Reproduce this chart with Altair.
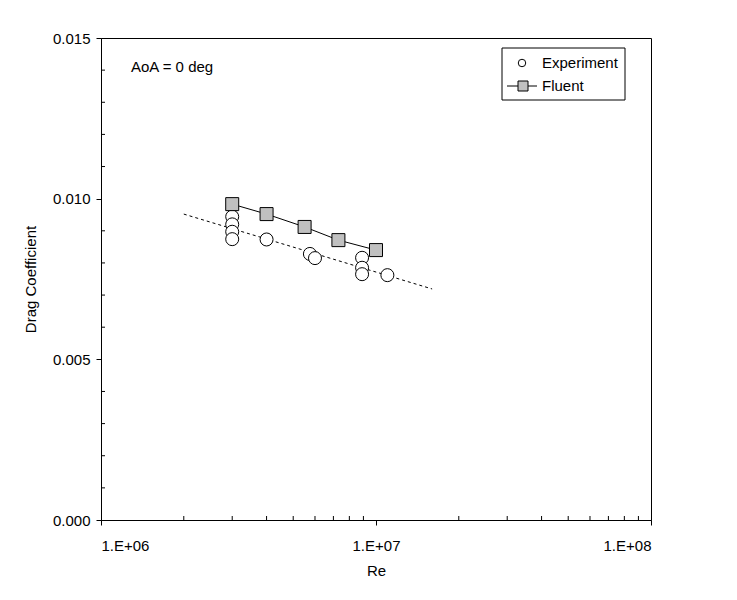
import altair as alt
import pandas as pd

# ---- data ----
fluent_re = [3.0e6, 4.0e6, 5.5e6, 7.3e6, 1.0e7]
fluent_cd = [0.00983, 0.00952, 0.00912, 0.00871, 0.00840]

exp_re = [3.0e6, 3.0e6, 3.0e6, 3.0e6, 4.0e6, 5.75e6, 6.0e6, 8.9e6, 8.9e6, 8.9e6, 1.1e7]
exp_cd = [0.00944, 0.00920, 0.00897, 0.00874, 0.00873, 0.00828, 0.00815,
          0.00816, 0.00785, 0.00765, 0.00762]

fit_re = [2.0e6, 1.6e7]
fit_cd = [0.00952, 0.00719]

x_major = [1e6, 1e7, 1e8]
y_major = [0.0, 0.005, 0.010, 0.015]
x_minor = [2e6, 3e6, 4e6, 5e6, 6e6, 7e6, 8e6, 9e6,
           2e7, 3e7, 4e7, 5e7, 6e7, 7e7, 8e7, 9e7]
y_minor = [0.001, 0.002, 0.003, 0.004, 0.006, 0.007, 0.008, 0.009,
           0.011, 0.012, 0.013, 0.014]

legend_labels = ["Experiment", "Fluent"]
annotation = ["AoA = 0 deg"]

FONT = "Liberation Sans"
W, H = 550, 482

xscale = alt.Scale(type="log", domain=[1e6, 1e8], nice=False)
yscale = alt.Scale(domain=[0, 0.015], nice=False, zero=False)

xenc = alt.X("re:Q", scale=xscale,
             axis=alt.Axis(values=x_major, title="Re",
                           labelExpr="'1.E+0' + round(log(datum.value)/LN10)",
                           tickSize=5, labelPadding=13, titlePadding=10))
yenc = alt.Y("cd:Q", scale=yscale,
             axis=alt.Axis(values=y_major, format=".3f", title="Drag Coefficient",
                           tickSize=5, labelPadding=6, titlePadding=14))

fluent_df = pd.DataFrame({"re": fluent_re, "cd": fluent_cd})
exp_df = pd.DataFrame({"re": exp_re, "cd": exp_cd})
fit_df = pd.DataFrame({"re": fit_re, "cd": fit_cd})

base_axes = alt.Chart(fit_df).mark_line(
    stroke="black", strokeWidth=1, strokeDash=[3, 3]
).encode(x=xenc, y=yenc)

fluent_line = alt.Chart(fluent_df).mark_line(stroke="black", strokeWidth=1).encode(
    x=alt.X("re:Q", scale=xscale), y=alt.Y("cd:Q", scale=yscale))

exp_pts = alt.Chart(exp_df).mark_point(
    shape="circle", size=169, filled=True, fill="white", stroke="black",
    strokeWidth=1, opacity=1
).encode(x=alt.X("re:Q", scale=xscale), y=alt.Y("cd:Q", scale=yscale))

fluent_pts = alt.Chart(fluent_df).mark_point(
    shape="square", size=169, filled=True, fill="#c0c0c0", stroke="black",
    strokeWidth=1, opacity=1
).encode(x=alt.X("re:Q", scale=xscale), y=alt.Y("cd:Q", scale=yscale))

# minor ticks (inward)
xmin_df = pd.DataFrame({"re": x_minor})
ymin_df = pd.DataFrame({"cd": y_minor})
x_minor_ticks = alt.Chart(xmin_df).mark_rule(stroke="black", strokeWidth=1).encode(
    x=alt.X("re:Q", scale=xscale), y=alt.value(H), y2=alt.value(H - 4))
y_minor_ticks = alt.Chart(ymin_df).mark_rule(stroke="black", strokeWidth=1).encode(
    y=alt.Y("cd:Q", scale=yscale), x=alt.value(0), x2=alt.value(4))

# annotation
ann = alt.Chart(pd.DataFrame({"t": annotation})).mark_text(
    font=FONT, fontSize=15, align="left", baseline="middle", color="black"
).encode(text="t:N", x=alt.value(30), y=alt.value(29))

# manual legend
one = pd.DataFrame({"a": [0]})
leg_box = alt.Chart(one).mark_rect(
    fill="white", stroke="black", strokeWidth=1
).encode(x=alt.value(401), x2=alt.value(524), y=alt.value(10), y2=alt.value(62))
leg_circle = alt.Chart(one).mark_point(
    shape="circle", size=56, filled=True, fill="white", stroke="black",
    strokeWidth=1, opacity=1
).encode(x=alt.value(421), y=alt.value(25))
leg_line = alt.Chart(one).mark_rule(
    stroke="black", strokeWidth=1
).encode(x=alt.value(406), x2=alt.value(436), y=alt.value(48))
leg_square = alt.Chart(one).mark_point(
    shape="square", size=100, filled=True, fill="#c0c0c0", stroke="black",
    strokeWidth=1, opacity=1
).encode(x=alt.value(422), y=alt.value(48))
leg_text1 = alt.Chart(pd.DataFrame({"t": [legend_labels[0]]})).mark_text(
    font=FONT, fontSize=15, align="left", baseline="middle", color="black"
).encode(text="t:N", x=alt.value(441), y=alt.value(25))
leg_text2 = alt.Chart(pd.DataFrame({"t": [legend_labels[1]]})).mark_text(
    font=FONT, fontSize=15, align="left", baseline="middle", color="black"
).encode(text="t:N", x=alt.value(441), y=alt.value(48))

chart = alt.layer(
    base_axes, fluent_line, exp_pts, fluent_pts,
    x_minor_ticks, y_minor_ticks, ann,
    leg_box, leg_circle, leg_line, leg_square, leg_text1, leg_text2
).properties(
    width=W, height=H,
    autosize=alt.AutoSizeParams(type="none"),
    padding={"left": 101, "top": 38, "right": 86, "bottom": 80},
    background="white",
).configure_view(
    stroke="black", strokeWidth=1
).configure_axis(
    grid=False, domainColor="black", tickColor="black", labelColor="black",
    titleColor="black", labelFont=FONT, titleFont=FONT, labelFontSize=15,
    titleFontSize=15, titleFontWeight="normal", domainWidth=1, tickWidth=1
)

chart.save("out.html", embed_options={"renderer": "svg", "actions": False})
